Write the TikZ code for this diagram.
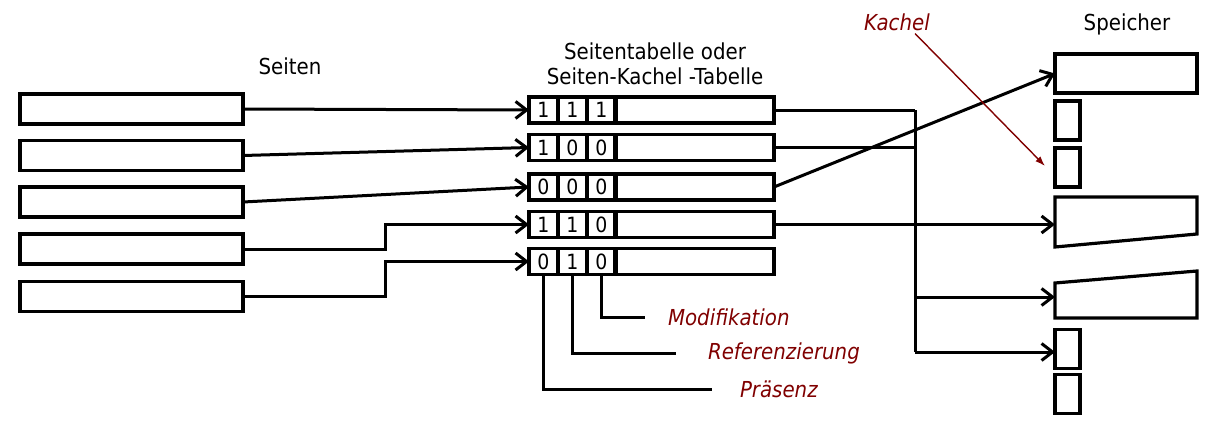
\documentclass[tikz,border=0pt]{standalone}
\usepackage{fontspec}
\setmainfont{DejaVu Sans}[FakeStretch=0.9]
\usetikzlibrary{arrows.meta,calc}
\definecolor{dred}{RGB}{128,0,0}
\begin{document}
\begin{tikzpicture}[x=1pt,y=-1pt,
  every node/.style={inner sep=0pt, outer sep=0pt},
  lw/.style={line width=3.2pt},
  pagebox/.style={draw, lw, minimum width=223pt, minimum height=30pt},
  cell/.style={draw, lw, minimum width=29pt, minimum height=26pt, font=\fontsize{21}{21}\selectfont},
  rowbox/.style={draw, lw, minimum width=159pt, minimum height=26pt},
  membox/.style={draw, lw, minimum width=25pt, minimum height=39pt},
  conn/.style={line width=3pt},
  arr/.style={line width=3pt, -{Straight Barb[length=11pt,width=17pt,line width=3pt]}},
  lbl/.style={font=\fontsize{22}{26}\selectfont},
  rlbl/.style={font=\fontsize{22}{26}\selectfont\itshape, text=dred}
]
\useasboundingbox (0,0) rectangle (1206,420);

% Seiten
\node[lbl] (seiten) at (290,66) {Seiten};
\node[pagebox] (p1) at (131.5,109) {};
\node[pagebox] (p2) at (131.5,155.5) {};
\node[pagebox] (p3) at (131.5,202) {};
\node[pagebox] (p4) at (131.5,249) {};
\node[pagebox] (p5) at (131.5,296.5) {};

% Tabelle
\node[lbl, align=center] (ttl) at (655,63.5) {Seitentabelle oder\\[-1pt]Seiten-Kachel -Tabelle};

\foreach \r/\y/\a/\b/\c in {1/110/1/1/1, 2/147.5/1/0/0, 3/187/0/0/0, 4/224.5/1/1/0, 5/261.5/0/1/0}{
  \node[cell] (c\r1) at (543.5,\y) {\a};
  \node[cell] (c\r2) at (572.5,\y) {\b};
  \node[cell] (c\r3) at (601.5,\y) {\c};
  \node[rowbox] (r\r) at (694.5,\y) {};
}

% Speicher
\node[lbl] (speicher) at (1127,24) {Speicher};
\node[draw, lw, minimum width=142pt, minimum height=39pt] (m1) at (1126,73.5) {};
\node[membox] (s1) at (1067.5,120.5) {};
\node[membox] (s2) at (1067.5,167.5) {};
\node[membox] (s3) at (1067.5,349) {};
\node[membox] (s4) at (1067.5,394) {};
\draw[lw] (1055,197) -- (1197,197) -- (1197,234) -- (1055,247) -- cycle;
\draw[lw] (1055,283) -- (1197,271) -- (1197,318) -- (1055,318) -- cycle;
\coordinate (t1) at (1055,224.5);
\coordinate (t2) at (1055,297);

% Seiten -> Tabelle
\draw[arr] (p1.east) -- (c11.west);
\draw[arr] (p2.east) -- (c21.west);
\draw[arr] (p3.east) -- (c31.west);
\draw[arr] (p4.east) -- ++(142,0) |- (c41.west);
\draw[arr] (p5.east) -- ++(142,0) |- (c51.west);

% Tabelle -> Speicher
\coordinate (bt) at (915,110);
\coordinate (bb) at (915,352);
\draw[conn] (r1.east) -- (bt);
\draw[conn] (r2.east) -- (r2.east -| bt);
\draw[conn] (bt) -- (bb);
\draw[arr] (r3.east) -- (m1.west);
\draw[arr] (r4.east) -- (t1);
\draw[arr] (t2 -| bt) -- (t2);
\draw[arr] (bb) -- (s3.west |- bb);

% Kachel
\node[rlbl] (kachel) at (897,22) {Kachel};
\draw[dred, line width=1.4pt, -{Latex[length=10pt,width=7pt]}] ([xshift=18pt,yshift=-3pt]kachel.south) -- (1045,166);

% Bit-Beschriftungen
\node[rlbl, anchor=west] (lmod) at (668,317) {Modifikation};
\node[rlbl, anchor=west] (lref) at (708,353) {Referenzierung};
\node[rlbl, anchor=west] (lpra) at (740,389) {Präsenz};
\draw[conn] (c53.south) |- ([xshift=-23pt]lmod.west);
\draw[conn] (c52.south) |- ([xshift=-32pt]lref.west);
\draw[conn] (c51.south) |- ([xshift=-28pt]lpra.west);
\end{tikzpicture}
\end{document}
